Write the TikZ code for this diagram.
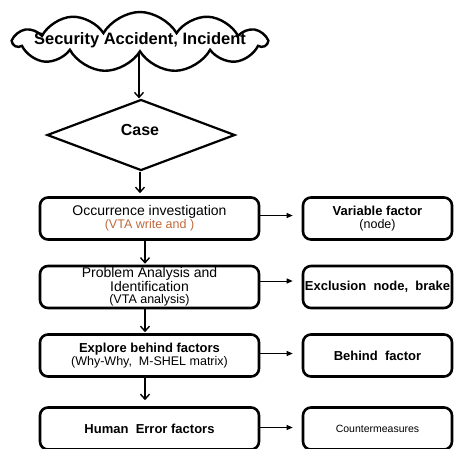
\documentclass[tikz,border=0pt]{standalone}
\usepackage{fontspec}
\setmainfont{Liberation Sans}
\usetikzlibrary{arrows.meta,shapes.symbols,shapes.geometric}

\definecolor{vtabrown}{RGB}{190,105,60}
\newcommand{\bigf}{\fontsize{16.5}{18}\selectfont\bfseries}
\newcommand{\headf}{\fontsize{13}{14}\selectfont\bfseries}
\newcommand{\plainf}{\fontsize{14}{13.5}\selectfont}
\newcommand{\subf}{\fontsize{12.5}{13.5}\selectfont}

\tikzset{
  stepbox/.style={draw,line width=2.6pt,rounded corners=8pt,minimum height=42pt,inner sep=0pt,align=center},
  leftbox/.style={stepbox,minimum width=219pt},
  rightbox/.style={stepbox,minimum width=149pt},
  downarr/.style={line width=1.4pt,-{Straight Barb[length=5pt,width=9pt]}},
  sidearr/.style={line width=1pt,-{Triangle[length=6pt,width=5pt]}},
}

\begin{document}
\begin{tikzpicture}[x=1pt,y=-1pt]
\useasboundingbox (0,0) rectangle (454,448);
\clip (0,0) rectangle (454,448);

\node[cloud,draw,line width=2.4pt,cloud puffs=11,cloud puff arc=120,aspect=4,
  minimum width=252pt,minimum height=60pt,inner sep=0pt] (incident) at (140,42) {};
\node[font=\bigf] (incidenttxt) at (140,40) {Security Accident, Incident};
\node[diamond,draw,line width=2.2pt,aspect=2.7,minimum width=188pt,minimum height=71pt,
  inner sep=0pt] (case) at (141,135) {};
\node[font=\fontsize{16}{18}\selectfont\bfseries] (casetxt) at (140,130) {Case};

% left column
\node[leftbox] (occur) at (149.5,218.5)
  {\plainf Occurrence investigation\\[1pt]\subf\color{vtabrown}(VTA write and )};
\node[leftbox] (problem) at (149.5,287)
  {\plainf Problem Analysis and\\\plainf Identification\\\subf (VTA analysis)};
\node[leftbox] (explore) at (149.5,355.5)
  {\headf Explore behind factors\\[1pt]\subf (Why-Why,\ \ M-SHEL matrix)};
\node[leftbox,font=\headf] (human) at (149.5,428.5) {Human\ \ Error factors};

% right column
\node[rightbox] (variable) at (377.5,218.5) {\headf Variable factor\\[1pt]\subf (node)};
\node[rightbox,font=\headf] (exclusion) at (377.5,287) {Exclusion\ \ node,\ \ brake};
\node[rightbox,font=\headf] (behind) at (377.5,355.5) {Behind\ \ factor};
\node[rightbox,font=\fontsize{10.5}{12}\selectfont] (counter) at (377.5,428.5) {Countermeasures};

\draw[downarr] (incident.south -| 139,0) -- (case.north -| 139,0);
\draw[downarr] (case.south -| 140,0) -- ([yshift=3pt]occur.north -| 140,0);
\draw[downarr] ([xshift=-4.5pt]occur.south) -- ([xshift=-4.5pt,yshift=1pt]problem.north);
\draw[downarr] ([xshift=-4.5pt]problem.south) -- ([xshift=-4.5pt,yshift=1pt]explore.north);
\draw[downarr] ([xshift=-4.5pt]explore.south) -- ([xshift=-4.5pt,yshift=6pt]human.north);

\draw[sidearr] ([yshift=3pt]occur.east) -- ([xshift=-9pt,yshift=3pt]variable.west);
\draw[sidearr] ([yshift=6pt]problem.east) -- ([xshift=-9pt,yshift=6pt]exclusion.west);
\draw[sidearr] ([yshift=2pt]explore.east) -- ([xshift=-9pt,yshift=2pt]behind.west);
\draw[sidearr] ([yshift=1pt]human.east) -- ([xshift=-9pt,yshift=1pt]counter.west);
\end{tikzpicture}
\end{document}
